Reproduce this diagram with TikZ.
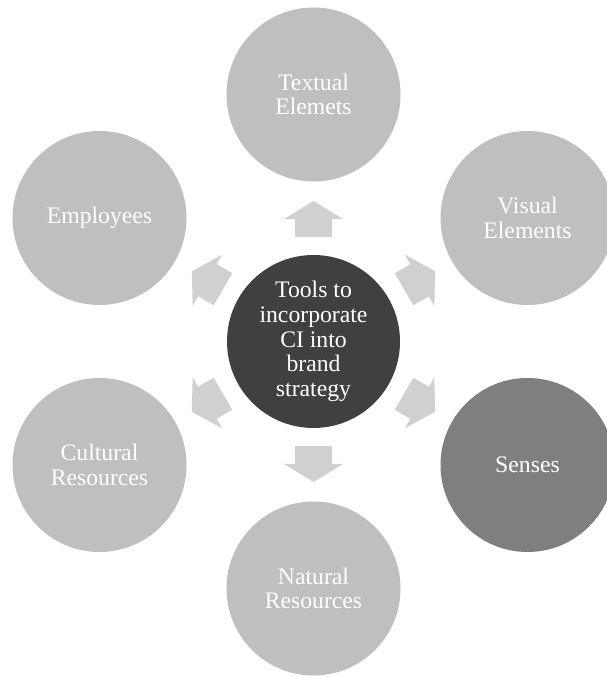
\documentclass[tikz,border=0pt]{standalone}
\usepackage{fontspec}
\setmainfont{Liberation Serif}
\definecolor{circgray}{HTML}{BFBFBF}
\definecolor{centergray}{HTML}{404040}
\definecolor{midgray}{HTML}{7F7F7F}
\definecolor{arrowgray}{HTML}{D0D0D0}
\tikzset{
  circ/.style={circle, fill=circgray, draw=none, minimum size=174pt, inner sep=0pt,
    text=white, align=center, font=\fontsize{23.7}{24.7}\selectfont},
  centercirc/.style={circ, fill=centergray, minimum size=173pt},
  blockarrow/.style={fill=arrowgray, draw=none}
}
\begin{document}
\begin{tikzpicture}[x=1pt,y=1pt]
\useasboundingbox (0,0) rectangle (607,677);
\coordinate (C) at (313.5,335.5);
\node[centercirc] (center) at (C) {Tools to\\incorporate\\CI into\\brand\\strategy};
\node[circ] (textual) at (313.5,582.5) {Textual\\Elemets};
\node[circ] (visual) at (527.5,459) {Visual\\Elements};
\node[circ, fill=midgray] (senses) at (527.5,212) {Senses};
\node[circ] (natural) at (313.5,88.5) {Natural\\Resources};
\node[circ] (cultural) at (99.5,212) {Cultural\\Resources};
\node[circ] (employees) at (99.5,459) {Employees};
\foreach \a in {90,30,-30,-90,-150,150}{
  \fill[blockarrow, shift={(C)}, rotate=\a]
    (104.5,-18.5) -- (122.5,-18.5) -- (122.5,-29.5) -- (140.5,0)
    -- (122.5,29.5) -- (122.5,18.5) -- (104.5,18.5) -- cycle;
}
\end{tikzpicture}
\end{document}
